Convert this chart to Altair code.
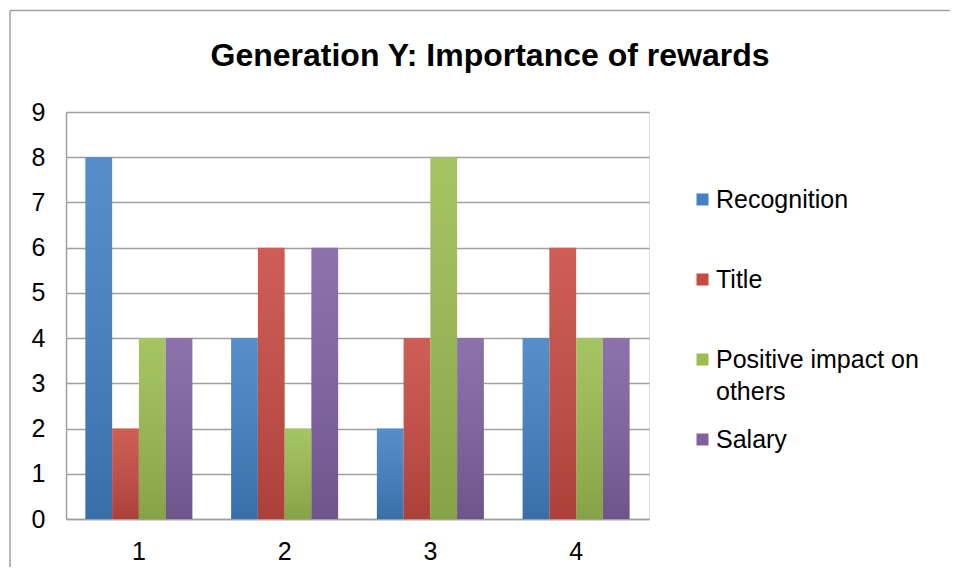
import altair as alt
import pandas as pd

chart_title = "Generation Y: Importance of rewards"
categories = ["1", "2", "3", "4"]
series = ["Recognition", "Title", "Positive impact on others", "Salary"]
recognition = [8, 4, 2, 4]
title_vals = [2, 6, 4, 6]
positive = [4, 2, 8, 4]
salary = [4, 6, 4, 4]
colors = ["#4281c4", "#c84b43", "#9bbd50", "#7f62a2"]

values = [recognition, title_vals, positive, salary]
rows = []
for s, vals in zip(series, values):
    for c, v in zip(categories, vals):
        rows.append({"cat": c, "series": s, "value": v})
df = pd.DataFrame(rows)

FONT = "Liberation Sans"

base = alt.Chart(df).encode(
    x=alt.X(
        "cat:N",
        sort=categories,
        scale=alt.Scale(paddingInner=0.266, paddingOuter=0.133),
        axis=alt.Axis(
            title=None, labelAngle=0, ticks=False, grid=False, domain=True,
            domainColor="#a0a0a0", domainWidth=1.5, labelFont=FONT,
            labelFontSize=25, labelColor="black", labelPadding=20,
        ),
    ),
    xOffset=alt.XOffset("series:N", sort=series,
                        scale=alt.Scale(domain=series, paddingInner=0, paddingOuter=0)),
    y=alt.Y(
        "value:Q",
        scale=alt.Scale(domain=[0, 9], nice=False),
        axis=alt.Axis(
            title=None, values=list(range(10)), ticks=False, grid=True,
            gridColor="#a0a0a0", gridWidth=1.5, domain=True, domainColor="#a0a0a0",
            domainWidth=1.5, labelFont=FONT, labelFontSize=25, labelColor="black",
            labelPadding=21,
        ),
    ),
)

bars = base.mark_bar().encode(
    color=alt.Color(
        "series:N",
        sort=series,
        scale=alt.Scale(domain=series, range=colors),
        legend=alt.Legend(
            title=None, orient="none", legendX=624, legendY=75,
            direction="vertical", symbolType="square", symbolSize=144,
            symbolStrokeWidth=0, labelFont=FONT, labelFontSize=25,
            labelColor="black", labelOffset=1, rowPadding=22, padding=0,
            labelLimit=400,
            labelExpr="datum.label == 'Positive impact on others' ? ['Positive impact on', 'others'] : [datum.label, '']",
        ),
    )
)

shade = base.mark_bar(
    fill=alt.LinearGradient(
        gradient="linear",
        stops=[
            alt.GradientStop(color="rgba(255,255,255,0.10)", offset=0),
            alt.GradientStop(color="rgba(0,0,0,0.14)", offset=1),
        ],
        x1=0, x2=0, y1=0, y2=1,
    )
)

tdf = pd.DataFrame({"t": [chart_title]})
title_text = alt.Chart(tdf).mark_text(
    font=FONT, fontSize=32, fontWeight="bold", align="center",
    baseline="middle", color="black",
).encode(text="t:N", x=alt.value(424), y=alt.value(-56))

border_top = alt.Chart(tdf).mark_rule(color="#a0a0a0", strokeWidth=1.5).encode(
    x=alt.value(-56), x2=alt.value(884), y=alt.value(-101.5)
)
border_left = alt.Chart(tdf).mark_rule(color="#a0a0a0", strokeWidth=1.5).encode(
    x=alt.value(-56), y=alt.value(-101.5), y2=alt.value(455)
)

chart = alt.layer(border_top, border_left, bars, shade, title_text).properties(
    width=583,
    height=407,
    autosize=alt.AutoSizeParams(type="none"),
    padding={"left": 58, "top": 104, "right": 301, "bottom": 48},
).configure_view(strokeWidth=0).configure(style={"guide-label": {"lineHeight": 32}})

chart.save("out.html", embed_options={"renderer": "svg", "actions": False})
